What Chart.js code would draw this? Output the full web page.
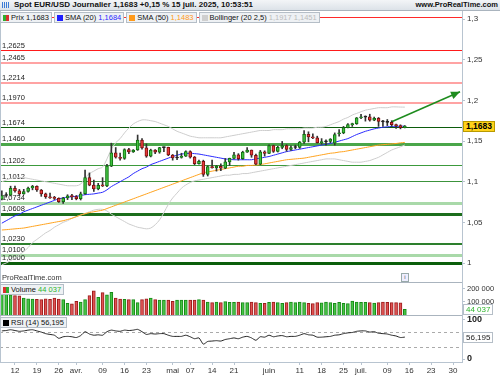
<!DOCTYPE html>
<html>
<head>
<meta charset="utf-8">
<script src="https://cdn.jsdelivr.net/npm/chart.js@4.4.1/dist/chart.umd.min.js"></script>
<style>
  body { margin:0; background:#fff; font-family:"Liberation Sans", Arial, sans-serif; }
  #wrap { position:relative; width:500px; height:375px; overflow:hidden; }
  canvas { position:absolute; left:0; }
  #top { position:absolute; left:0; top:0; width:500px; height:10px; line-height:10px; background:linear-gradient(#f3f5f7,#dce2e8); border-bottom:1px solid #aab4be; font-size:8px; font-weight:bold; color:#111; white-space:nowrap; z-index:3; }
  #top .ico { position:absolute; left:2px; top:2px; width:8px; height:6px; background:repeating-linear-gradient(90deg,#3b7bd6 0 1px,transparent 1px 2px); }
  #top .t { position:absolute; left:14px; }
  #top .site { position:absolute; right:2px; font-size:7.5px; }
  .legrow { position:absolute; left:0; display:flex; gap:2px; z-index:3; white-space:nowrap; }
  .box { display:inline-block; height:9px; line-height:9px; padding:0 2px 0 1px; border:1px solid #b5bec7; background:#eef1f4; font-size:7.5px; color:#111; }
  .sw { display:inline-block; width:6px; height:6px; margin:0 2px 0 1px; vertical-align:-0.5px; }
  .sep { position:absolute; left:0; width:462px; height:1px; background:#aab4be; z-index:2; }
  .tag { position:absolute; left:463px; font-size:8px; padding:0 2px; line-height:9px; z-index:3; white-space:nowrap; }
  #px { background:#ffd21a; border:1px solid #b89a00; font-weight:bold; font-size:8.5px; color:#000; }
  #vt { background:#fff; border:1px solid #b5bec7; color:#2db42d; }
  #rt { background:#fff; border:1px solid #b5bec7; color:#222; }
  #prt { position:absolute; left:2px; top:273px; font-size:7.5px; color:#333; z-index:2; }
  #info { position:absolute; left:401px; top:273px; width:6px; height:7px; border:1px solid #9aa; background:#eef; font-size:6px; line-height:7px; text-align:center; color:#555; z-index:2; }
  #lefted { position:absolute; left:0; top:11px; width:1px; height:351px; background:#b8c4d0; z-index:2; }
</style>
</head>
<body>
<div id="wrap">
  <div id="top"><span class="ico"></span><span class="t">Spot EUR/USD Journalier 1,1683 +0,15 % 15 juil. 2025, 10:53:51</span><span class="site">www.ProRealTime.com</span></div>
  <canvas id="cMain" width="500" height="271" style="top:11px"></canvas>
  <canvas id="cVol" width="500" height="33" style="top:282px"></canvas>
  <canvas id="cRsi" width="500" height="60" style="top:315px"></canvas>
  <div id="lefted"></div>
  <div class="sep" style="top:282px"></div>
  <div class="sep" style="top:315px"></div>
  <div class="legrow" style="top:12px">
    <span class="box"><i class="sw" style="background:linear-gradient(90deg,#2fae2f 50%,#d93030 50%)"></i>Prix 1,1683</span>
    <span class="box"><i class="sw" style="background:#1f1fff"></i>SMA (20) <span style="color:#2a2aff">1,1684</span></span>
    <span class="box"><i class="sw" style="background:#ff9a1a"></i>SMA (50) <span style="color:#ff9a1a">1,1483</span></span>
    <span class="box"><i class="sw" style="background:#cfcfcf"></i>Bollinger (20 2,5) <span style="color:#bbb">1,1917 1,1451</span></span>
  </div>
  <div id="prt">ProRealTime.com</div>
  <div id="info">i</div>
  <div class="legrow" style="top:284px">
    <span class="box"><i class="sw" style="background:linear-gradient(90deg,#d93030 50%,#2fae2f 50%)"></i>Volume <span style="color:#2db42d">44 037</span></span>
  </div>
  <div class="legrow" style="top:317px">
    <span class="box"><i class="sw" style="background:#000"></i>RSI (14) 56,195</span>
  </div>
  <div id="px" class="tag">1,1683</div>
  <div id="vt" class="tag">44 037</div>
  <div id="rt" class="tag">56,195</div>
</div>
<script>
// daily candles, index 0 = 7 mars 2025 ... 92 = 15 juil. 2025
const opens = [1.0785,1.0830,1.0833,1.0918,1.0887,1.0850,1.0880,1.0922,1.0943,1.0898,
  1.0851,1.0815,1.0801,1.0794,1.0753,1.0799,1.0826,1.0816,1.0790,1.0852,
  1.1051,1.0958,1.0910,1.0956,1.0948,1.1192,1.1356,1.1301,1.1285,1.1396,
  1.1365,1.1390,1.1511,1.1417,1.1315,1.1390,1.1364,1.1420,1.1423,1.1328,
  1.1292,1.1298,1.1314,1.1369,1.1302,1.1223,1.1251,1.1088,1.1186,1.1174,
  1.1188,1.1165,1.1243,1.1287,1.1329,1.1283,1.1364,1.1389,1.1325,1.1215,
  1.1368,1.1348,1.1443,1.1371,1.1423,1.1444,1.1396,1.1421,1.1421,1.1487,
  1.1584,1.1550,1.1540,1.1480,1.1490,1.1495,1.1475,1.1590,1.1600,1.1665,
  1.1702,1.1715,1.1787,1.1795,1.1799,1.1758,1.1779,1.1740,1.1735,1.1730,
  1.1700,1.1690,1.1665];
const highs = [1.0888,1.0865,1.0945,1.0947,1.0905,1.0906,1.0935,1.0955,1.0948,1.0905,
  1.0860,1.0860,1.0820,1.0802,1.0808,1.0840,1.0845,1.0830,1.0872,1.1144,
  1.1108,1.1020,1.0980,1.1050,1.1215,1.1474,1.1420,1.1352,1.1405,1.1410,
  1.1395,1.1574,1.1529,1.1465,1.1400,1.1395,1.1423,1.1425,1.1425,1.1335,
  1.1380,1.1350,1.1380,1.1380,1.1310,1.1265,1.1265,1.1195,1.1265,1.1200,
  1.1220,1.1285,1.1290,1.1360,1.1345,1.1375,1.1420,1.1390,1.1340,1.1385,
  1.1380,1.1455,1.1450,1.1435,1.1495,1.1455,1.1440,1.1450,1.1495,1.1630,
  1.1614,1.1590,1.1560,1.1530,1.1515,1.1530,1.1600,1.1640,1.1680,1.1715,
  1.1720,1.1790,1.1830,1.1810,1.1830,1.1795,1.1790,1.1755,1.1765,1.1750,
  1.1710,1.1700,1.1690];
const lows = [1.0775,1.0810,1.0825,1.0870,1.0830,1.0845,1.0870,1.0900,1.0880,1.0820,
  1.0795,1.0795,1.0780,1.0745,1.0733,1.0780,1.0780,1.0777,1.0775,1.0845,
  1.0950,1.0880,1.0900,1.0940,1.0940,1.1185,1.1290,1.1265,1.1275,1.1345,
  1.1360,1.1385,1.1400,1.1300,1.1305,1.1345,1.1350,1.1370,1.1320,1.1265,
  1.1270,1.1290,1.1310,1.1290,1.1210,1.1215,1.1065,1.1070,1.1165,1.1130,
  1.1135,1.1160,1.1200,1.1280,1.1265,1.1275,1.1360,1.1300,1.1210,1.1210,
  1.1315,1.1345,1.1360,1.1365,1.1405,1.1375,1.1385,1.1405,1.1410,1.1470,
  1.1490,1.1530,1.1475,1.1460,1.1450,1.1480,1.1450,1.1560,1.1590,1.1660,
  1.1680,1.1705,1.1775,1.1745,1.1745,1.1750,1.1680,1.1680,1.1690,1.1680,
  1.1655,1.1650,1.1660];
const closes = [1.0830,1.0833,1.0918,1.0887,1.0850,1.0880,1.0922,1.0943,1.0898,1.0851,
  1.0815,1.0801,1.0794,1.0753,1.0799,1.0826,1.0816,1.0790,1.0852,1.1051,
  1.0958,1.0910,1.0956,1.0948,1.1192,1.1356,1.1301,1.1285,1.1396,1.1365,
  1.1390,1.1511,1.1417,1.1315,1.1390,1.1364,1.1420,1.1423,1.1328,1.1292,
  1.1298,1.1314,1.1369,1.1302,1.1223,1.1251,1.1088,1.1186,1.1174,1.1188,
  1.1165,1.1243,1.1287,1.1329,1.1283,1.1364,1.1389,1.1325,1.1215,1.1368,
  1.1348,1.1443,1.1371,1.1423,1.1444,1.1396,1.1421,1.1421,1.1487,1.1584,
  1.1550,1.1540,1.1480,1.1490,1.1495,1.1523,1.1580,1.1600,1.1665,1.1702,
  1.1715,1.1787,1.1795,1.1799,1.1758,1.1779,1.1740,1.1735,1.1730,1.1700,
  1.1690,1.1665,1.1683];

// indicators
const sma20 = [1.049,1.052,1.055,1.058,1.060,1.063,1.065,1.067,1.069,1.071,
  1.073,1.075,1.077,1.079,1.080,1.081,1.0815,1.082,1.083,1.084,
  1.0845,1.085,1.086,1.087,1.090,1.094,1.097,1.100,1.103,1.106,
  1.110,1.113,1.116,1.118,1.121,1.123,1.125,1.127,1.129,1.131,
  1.1325,1.134,1.1345,1.135,1.1345,1.134,1.133,1.132,1.131,1.130,
  1.129,1.128,1.1275,1.127,1.127,1.127,1.127,1.127,1.128,1.129,
  1.130,1.131,1.1325,1.134,1.1355,1.137,1.138,1.139,1.140,1.141,
  1.142,1.143,1.144,1.145,1.146,1.147,1.1485,1.150,1.1515,1.153,
  1.1555,1.158,1.160,1.162,1.1635,1.165,1.166,1.167,1.1675,1.168,
  1.168,1.1682,1.1684];
const sma50 = [1.0406,1.041,1.0415,1.042,1.0425,1.043,1.044,1.045,1.046,1.047,
  1.048,1.049,1.050,1.051,1.052,1.0535,1.055,1.057,1.059,1.0605,
  1.062,1.063,1.064,1.065,1.067,1.069,1.071,1.073,1.075,1.077,
  1.079,1.081,1.083,1.085,1.087,1.089,1.091,1.093,1.095,1.097,
  1.099,1.101,1.103,1.105,1.107,1.109,1.111,1.112,1.113,1.114,
  1.115,1.116,1.117,1.118,1.119,1.119,1.120,1.120,1.1205,1.121,
  1.122,1.123,1.124,1.125,1.126,1.127,1.1275,1.128,1.1285,1.129,
  1.130,1.131,1.132,1.133,1.134,1.135,1.1355,1.1365,1.137,1.138,
  1.139,1.140,1.141,1.142,1.143,1.144,1.145,1.1455,1.146,1.1465,
  1.147,1.1478,1.1483];
const bbUp = [1.100,1.102,1.104,1.105,1.105,1.105,1.104,1.103,1.102,1.101,
  1.100,1.099,1.098,1.097,1.096,1.095,1.095,1.095,1.097,1.105,
  1.110,1.113,1.116,1.118,1.128,1.140,1.148,1.153,1.160,1.166,
  1.171,1.174,1.176,1.176,1.175,1.174,1.172,1.170,1.168,1.165,
  1.162,1.160,1.158,1.156,1.155,1.154,1.154,1.154,1.154,1.154,
  1.154,1.155,1.156,1.157,1.158,1.159,1.160,1.161,1.162,1.163,
  1.163,1.163,1.164,1.164,1.164,1.165,1.165,1.165,1.165,1.166,
  1.166,1.166,1.167,1.167,1.168,1.170,1.172,1.174,1.177,1.179,
  1.182,1.184,1.186,1.188,1.189,1.190,1.191,1.191,1.191,1.192,
  1.192,1.1918,1.1917];
const bbLow = [0.998,1.000,1.003,1.006,1.010,1.014,1.019,1.025,1.029,1.033,
  1.037,1.040,1.044,1.047,1.050,1.052,1.055,1.057,1.059,1.061,
  1.063,1.065,1.066,1.066,1.064,1.060,1.057,1.054,1.051,1.048,
  1.046,1.044,1.043,1.042,1.043,1.047,1.053,1.062,1.072,1.080,
  1.086,1.092,1.096,1.099,1.101,1.102,1.103,1.104,1.105,1.106,
  1.107,1.108,1.108,1.109,1.109,1.110,1.110,1.111,1.112,1.113,
  1.114,1.115,1.116,1.117,1.118,1.119,1.120,1.121,1.122,1.123,
  1.124,1.125,1.126,1.127,1.128,1.128,1.128,1.127,1.126,1.125,
  1.124,1.124,1.124,1.125,1.126,1.128,1.130,1.133,1.136,1.139,
  1.141,1.143,1.1451];
const volumes = [160000,160000,155000,150000,148000,130000,125000,123000,120000,118000,
  125000,120000,130000,122000,118000,90000,85000,105000,100000,118000,
  150000,185000,135000,172000,155000,175000,130000,122000,120000,118000,
  118000,95000,118000,125000,130000,118000,115000,115000,115000,105000,
  115000,115000,115000,115000,115000,118000,115000,100000,95000,100000,
  95000,103000,98000,97000,100000,95000,95000,100000,95000,90000,
  90000,98000,100000,95000,90000,95000,100000,95000,100000,95000,
  90000,88000,95000,93000,100000,95000,90000,98000,90000,88000,
  108000,100000,97000,98000,95000,92000,95000,100000,97000,95000,
  95000,93000,44037];
const rsi = [72,73,75,73,71,72,74,75,72,69,
  65,63,61,53,57,58,57,55,60,70,
  64,61,62,61,70,74,72,71,74,73,
  74,76,70,63,65,64,65,65,61,58,
  58,58,61,57,52,54,38,45,46,47,
  46,50,52,54,52,56,58,54,48,57,
  56,61,57,59,60,57,58,58,61,65,
  62,61,56,56,57,58,61,62,65,67,
  68,71,72,72,69,70,66,65,64,61,
  59,55,56.195];

// horizontal support / resistance levels
const levelValues = [1.3025,1.2625,1.2465,1.2214,1.1970,1.1674,1.1460,1.1202,1.1012,1.0734,1.0608,1.0230,1.0100,1.0000];
const levelLabels = ['','1,2625','1,2465','1,2214','1,1970','1,1674','1,1460','1,1202','1,1012','1,0734','1,0608','1,0230','1,0100','1,0000'];
const levelColors = ['#ff2a2a','#ff1a1a','#ffa3a3','#ffa3a3','#ffa3a3','#0c5c0c','#4aa64a','#3c9a3c','#3c933c','#a9d9a9','#1c6e1c','#2d7f2d','#a9d9a9','#0b5e0b'];
const levelWidths = [1,1,2,2,2,1,3,1,1,3,3,2,3,3];

// trend arrow (index, price)
const arrowFrom = {x:89, y:1.1738};
const arrowTo = {x:104.6, y:1.2107};

const priceTicks = [1,1.05,1.1,1.15,1.2,1.25,1.3];
const volTicks = [100000,200000];
const rsiTicks = [0,100];
const rsiBands = [30,70];
const tickPos = [3,8,13,17,23,28,33,39,43,48,53,61,68,73,78,82,88,93,98,103];
const tickLabels = ['12','19','26','avr.','09','16','23','mai','07','14','21','juin','11','18','25','juil.','09','16','23','30'];

const xMin = -0.42, xMax = 105.05;
const FONT = '"Liberation Sans", Arial, sans-serif';
Chart.defaults.font.family = FONT;
Chart.defaults.animation = false;

const comma = v => String(v).replace('.', ',');
const spaced = v => String(v).replace(/\B(?=(\d{3})+(?!\d))/g, ' ');

const isUp = i => closes[i] >= opens[i];
const isDoji = i => Math.abs(closes[i] - opens[i]) < 0.0006;
const bodyFill = closes.map((c,i) => isDoji(i) ? '#222' : (isUp(i) ? '#3fc13f' : '#e83a3a'));
const bodyLine = closes.map((c,i) => isDoji(i) ? '#222' : (isUp(i) ? '#106e10' : '#7a1010'));

function rightAxis(extra) {
  return Object.assign({
    type:'linear', position:'right',
    afterFit(s) { s.width = 38; s.paddingTop = 0; s.paddingBottom = 0; },
    grid:{ drawOnChartArea:false, tickLength:3, color:'#b8c4d0' },
    border:{ color:'#b8c4d0' },
  }, extra);
}
const hiddenX = { type:'linear', min:xMin, max:xMax, display:false, offset:false, grid:{offset:false} };

const levelPlugin = {
  id:'levels',
  beforeDatasetsDraw(chart) {
    const {ctx, chartArea:a, scales:{y}} = chart;
    ctx.save();
    ctx.font = '7.5px ' + FONT;
    levelValues.forEach((v,k) => {
      const w = levelWidths[k];
      const py = Math.round(y.getPixelForValue(v)) + (w % 2 ? 0.5 : 0);
      ctx.strokeStyle = levelColors[k];
      ctx.lineWidth = w;
      ctx.beginPath(); ctx.moveTo(a.left, py); ctx.lineTo(a.right, py); ctx.stroke();
      if (levelLabels[k]) {
        ctx.fillStyle = '#222';
        ctx.fillText(levelLabels[k], a.left + 2, py - w/2 - 2);
      }
    });
    ctx.restore();
  }
};

const arrowPlugin = {
  id:'arrowHead',
  afterDatasetsDraw(chart) {
    const {ctx, scales:{x, y}} = chart;
    const x0 = x.getPixelForValue(arrowFrom.x), y0 = y.getPixelForValue(arrowFrom.y);
    const x1 = x.getPixelForValue(arrowTo.x), y1 = y.getPixelForValue(arrowTo.y);
    const ang = Math.atan2(y1 - y0, x1 - x0);
    ctx.save();
    ctx.fillStyle = '#1e8c1e';
    ctx.beginPath();
    ctx.moveTo(x1, y1);
    ctx.lineTo(x1 - 9*Math.cos(ang) + 4*Math.sin(ang), y1 - 9*Math.sin(ang) - 4*Math.cos(ang));
    ctx.lineTo(x1 - 9*Math.cos(ang) - 4*Math.sin(ang), y1 - 9*Math.sin(ang) + 4*Math.cos(ang));
    ctx.closePath(); ctx.fill();
    ctx.restore();
  }
};

const idx = closes.map((c,i) => i);
const lineDs = (arr, color, order) => ({
  type:'line', data: idx.map(i => ({x:i, y:arr[i]})), borderColor:color, borderWidth:1,
  pointRadius:0, tension:0.3, order
});

const mainChart = new Chart(document.getElementById('cMain'), {
  type:'bar',
  data:{ datasets:[
    { data: idx.map(i => ({x:i, y:[opens[i], closes[i]]})), backgroundColor:bodyFill, borderColor:bodyLine,
      borderWidth:1, borderSkipped:false, barThickness:3, minBarLength:1, grouped:false, order:0 },
    { data: idx.map(i => ({x:i, y:[lows[i], highs[i]]})), backgroundColor:'#333', barThickness:1,
      grouped:false, order:1 },
    { type:'line', data:[arrowFrom, arrowTo], borderColor:'#1e8c1e', borderWidth:1.5, pointRadius:0, order:2 },
    lineDs(sma20, '#2a2aff', 3),
    lineDs(sma50, '#ffa31f', 4),
    lineDs(bbUp, '#cdcdcd', 5),
    lineDs(bbLow, '#cdcdcd', 6),
  ]},
  options:{
    responsive:false, layout:{padding:0},
    plugins:{ legend:{display:false}, tooltip:{enabled:false} },
    scales:{
      x: hiddenX,
      y: rightAxis({ min:0.97663, max:1.30996,
        afterBuildTicks(s) { s.ticks = priceTicks.map(v => ({value:v})); },
        ticks:{ callback:v => comma(v), font:{size:8}, color:'#333', padding:2 } })
    }
  },
  plugins:[levelPlugin, arrowPlugin]
});

const volChart = new Chart(document.getElementById('cVol'), {
  type:'bar',
  data:{ datasets:[{
    data: idx.map(i => ({x:i, y:volumes[i]})),
    backgroundColor: idx.map(i => isUp(i) ? '#46c446' : '#e05252'),
    borderColor: idx.map(i => isUp(i) ? '#178a17' : '#9c1c1c'),
    borderWidth:1, barThickness:3, grouped:false
  }]},
  options:{
    responsive:false, layout:{padding:0},
    plugins:{ legend:{display:false}, tooltip:{enabled:false} },
    scales:{
      x: hiddenX,
      y: rightAxis({ min:0, max:253846,
        afterBuildTicks(s) { s.ticks = volTicks.map(v => ({value:v})); },
        ticks:{ callback:v => spaced(v), font:{size:7.5}, color:'#333', padding:2 } })
    }
  }
});

const bandPlugin = {
  id:'rsiBands',
  beforeDatasetsDraw(chart) {
    const {ctx, chartArea:a, scales:{y}} = chart;
    ctx.save();
    ctx.strokeStyle = '#aaa'; ctx.lineWidth = 1; ctx.setLineDash([3,3]);
    rsiBands.forEach(v => {
      const py = Math.round(y.getPixelForValue(v)) + 0.5;
      ctx.beginPath(); ctx.moveTo(a.left, py); ctx.lineTo(a.right, py); ctx.stroke();
    });
    ctx.restore();
  }
};

const rsiChart = new Chart(document.getElementById('cRsi'), {
  type:'line',
  data:{ datasets:[{ data: idx.map(i => ({x:i, y:rsi[i]})), borderColor:'#222', borderWidth:1, pointRadius:0, tension:0.2 }]},
  options:{
    responsive:false, layout:{padding:0},
    plugins:{ legend:{display:false}, tooltip:{enabled:false} },
    scales:{
      x:{ type:'linear', min:xMin, max:xMax, offset:false,
        afterFit(s) { s.height = 13; s.paddingLeft = 0; s.paddingRight = 0; },
        afterBuildTicks(s) { s.ticks = tickPos.map(v => ({value:v})); },
        ticks:{ callback:(v,i) => tickLabels[i], autoSkip:false, maxRotation:0, font:{size:8}, color:'#333', padding:1 },
        grid:{ drawOnChartArea:false, tickLength:3, color:'#b8c4d0' },
        border:{ color:'#b8c4d0' } },
      y: rightAxis({ min:-7.69, max:112.8,
        afterBuildTicks(s) { s.ticks = rsiTicks.map(v => ({value:v})); },
        ticks:{ font:{size:9, weight:'bold'}, color:'#222', padding:2 } })
    }
  },
  plugins:[bandPlugin]
});

// value tags on the right axis, placed through the scales
function placeTag(id, chart, canvasTop, v) {
  const el = document.getElementById(id);
  el.style.top = (canvasTop + chart.scales.y.getPixelForValue(v) - el.offsetHeight / 2) + 'px';
}
placeTag('px', mainChart, 11, closes[closes.length - 1]);
placeTag('vt', volChart, 282, volumes[volumes.length - 1]);
placeTag('rt', rsiChart, 315, rsi[rsi.length - 1]);
</script>
</body>
</html>
